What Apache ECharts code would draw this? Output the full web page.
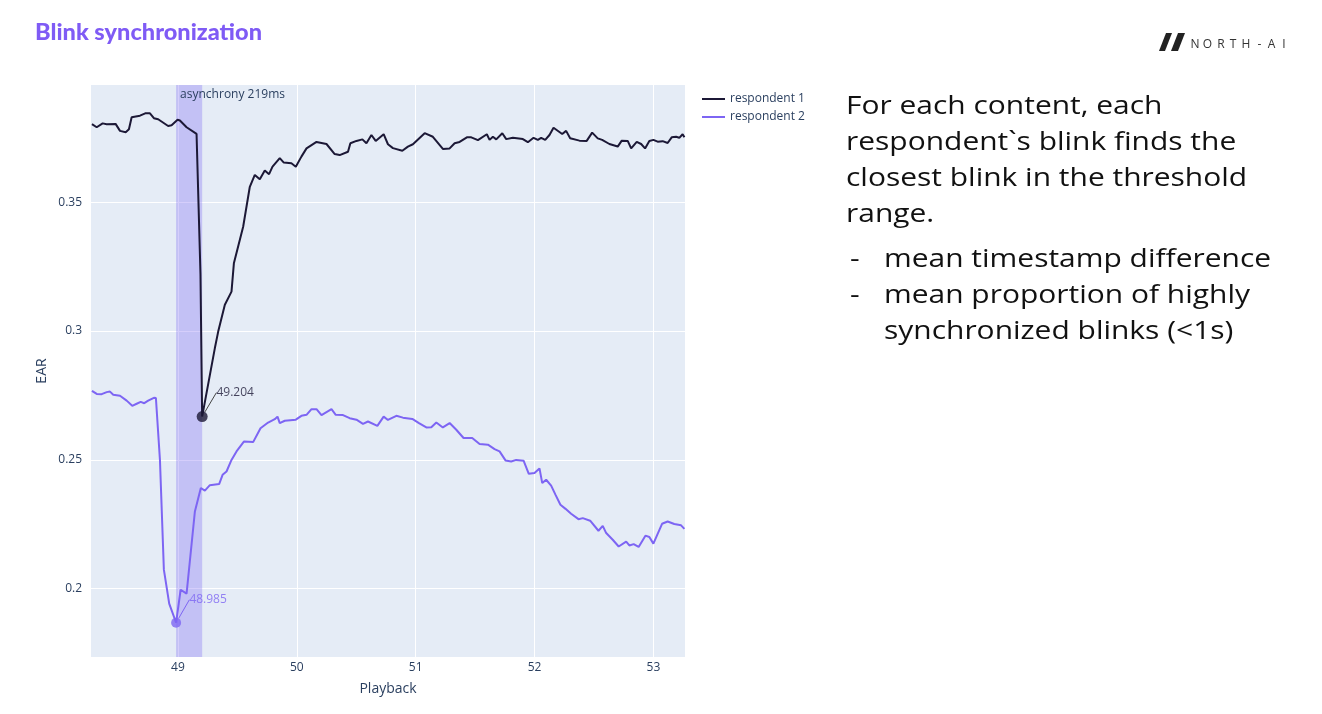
<!DOCTYPE html>
<html>
<head>
<meta charset="utf-8">
<script src="https://cdn.jsdelivr.net/npm/echarts@6/dist/echarts.min.js"></script>
<style>
  html, body { margin: 0; padding: 0; background: #ffffff; }
  #chart { width: 1322px; height: 714px; }
</style>
</head>
<body>
<div id="chart"></div>
<script>
// ---- data ----
const seriesNames = ['respondent 1', 'respondent 2'];

const r1X = [48.277,48.317,48.367,48.401,48.476,48.513,48.561,48.588,48.611,48.681,48.725,48.765,48.798,48.834,48.918,48.947,48.997,49.017,49.073,49.157,49.190,49.204,49.311,49.339,49.395,49.451,49.471,49.549,49.605,49.647,49.689,49.731,49.767,49.796,49.857,49.891,49.955,49.992,50.039,50.082,50.166,50.250,50.319,50.361,50.431,50.451,50.502,50.552,50.586,50.628,50.664,50.731,50.767,50.809,50.888,50.935,50.977,51.076,51.145,51.229,51.286,51.328,51.370,51.431,51.468,51.524,51.599,51.622,51.650,51.678,51.729,51.762,51.818,51.902,51.944,51.992,52.028,52.056,52.090,52.126,52.160,52.233,52.266,52.300,52.378,52.439,52.485,52.532,52.569,52.630,52.700,52.734,52.784,52.813,52.860,52.897,52.930,52.966,53.000,53.036,53.078,53.120,53.154,53.191,53.218,53.246,53.261];
const r1Y = [0.3803,0.3791,0.3806,0.3803,0.3804,0.3777,0.3772,0.3783,0.3830,0.3836,0.3845,0.3845,0.3826,0.3822,0.3796,0.3799,0.3820,0.3817,0.3791,0.3765,0.3220,0.2668,0.2934,0.2998,0.3102,0.3153,0.3263,0.3405,0.3560,0.3606,0.3589,0.3623,0.3609,0.3638,0.3671,0.3654,0.3651,0.3638,0.3677,0.3709,0.3734,0.3726,0.3687,0.3683,0.3696,0.3729,0.3738,0.3744,0.3729,0.3761,0.3738,0.3764,0.3725,0.3710,0.3700,0.3716,0.3725,0.3768,0.3754,0.3707,0.3709,0.3729,0.3734,0.3752,0.3752,0.3741,0.3764,0.3742,0.3754,0.3744,0.3768,0.3745,0.3750,0.3745,0.3733,0.3750,0.3742,0.3750,0.3742,0.3761,0.3789,0.3765,0.3777,0.3748,0.3739,0.3738,0.3770,0.3748,0.3742,0.3726,0.3716,0.3739,0.3738,0.3709,0.3734,0.3726,0.3709,0.3738,0.3742,0.3735,0.3737,0.3730,0.3752,0.3754,0.3750,0.3764,0.3752];

const r2X = [48.277,48.317,48.359,48.401,48.429,48.456,48.513,48.569,48.616,48.653,48.687,48.717,48.750,48.798,48.815,48.849,48.882,48.927,48.985,49.023,49.073,49.143,49.193,49.227,49.269,49.347,49.376,49.409,49.451,49.493,49.555,49.633,49.695,49.759,49.815,49.838,49.857,49.899,49.992,50.039,50.082,50.124,50.166,50.208,50.292,50.328,50.389,50.445,50.502,50.557,50.599,50.678,50.731,50.767,50.838,50.893,50.972,51.028,51.090,51.132,51.174,51.229,51.286,51.342,51.403,51.476,51.538,51.608,51.622,51.664,51.706,51.756,51.804,51.846,51.908,51.952,52.000,52.042,52.065,52.098,52.140,52.176,52.218,52.261,52.308,52.370,52.406,52.468,52.538,52.574,52.603,52.658,52.708,52.771,52.798,52.834,52.876,52.933,52.966,53.000,53.036,53.073,53.120,53.176,53.233,53.261];
const r2Y = [0.2768,0.2756,0.2755,0.2763,0.2765,0.2753,0.2749,0.2730,0.2710,0.2718,0.2725,0.2720,0.2730,0.2741,0.2740,0.2500,0.2074,0.1942,0.1868,0.1996,0.1981,0.2300,0.2391,0.2381,0.2402,0.2406,0.2442,0.2455,0.2500,0.2533,0.2571,0.2569,0.2623,0.2645,0.2658,0.2668,0.2643,0.2652,0.2656,0.2671,0.2675,0.2697,0.2697,0.2674,0.2697,0.2675,0.2674,0.2662,0.2656,0.2640,0.2649,0.2632,0.2668,0.2655,0.2671,0.2664,0.2659,0.2643,0.2626,0.2627,0.2645,0.2626,0.2643,0.2617,0.2585,0.2585,0.2562,0.2559,0.2562,0.2542,0.2533,0.2498,0.2494,0.2500,0.2497,0.2446,0.2449,0.2467,0.2410,0.2423,0.2400,0.2365,0.2326,0.2310,0.2291,0.2270,0.2274,0.2264,0.2225,0.2244,0.2216,0.2190,0.2164,0.2183,0.2168,0.2173,0.2162,0.2206,0.2201,0.2175,0.2213,0.2252,0.2261,0.2251,0.2246,0.2232];

// blink timestamps (minimum EAR) found for each respondent
const blinkTimes = [49.204, 48.985];
const asynchronyLabel = 'asynchrony 219ms';

// axis range
const xRange = [48.269, 53.266];
const yRange = [0.1735, 0.3955];

// text
const titleText = 'Blink synchronization';
const paraLines = ['For each content, each', 'respondent`s blink finds the', 'closest blink in the threshold', 'range.'];
const bulletLines = [['-', 'mean timestamp difference'], ['-', 'mean proportion of highly'], ['', 'synchronized blinks (<1s)']];
const logoText = 'NORTH-AI';

// ---- build ----
const COL1 = '#1c1836';
const COL2 = '#7d65f3';
const AXC = '#2a3f5f';
const FONT = '"Open Sans", "Noto Sans", sans-serif';

const d1 = r1X.map((x, i) => [x, r1Y[i]]);
const d2 = r2X.map((x, i) => [x, r2Y[i]]);
const blink1 = d1[r1X.indexOf(blinkTimes[0])];
const blink2 = d2[r2X.indexOf(blinkTimes[1])];

// horizontal stretch so that a font fills the same width as the original typeface
const measureCtx = document.createElement('canvas').getContext('2d');
function stretchFor(text, font, targetWidth) {
  measureCtx.font = font;
  return targetWidth / measureCtx.measureText(text).width;
}

const TITLE_FONT = '900 22px Lato, "Open Sans", sans-serif';
const BODY_FONT = '25px "Open Sans", sans-serif';
const titleScale = stretchFor(titleText, TITLE_FONT, 227);
const bodyScale = stretchFor(paraLines[0], BODY_FONT, 319);
const bulletScale = stretchFor(bulletLines[0][1], BODY_FONT, 384);
const textScale = (bodyScale + bulletScale) / 2;

const graphics = [];
graphics.push({
  type: 'text', x: 35, y: 33, scaleX: titleScale,
  style: { text: titleText, fill: '#7f5bf5', font: TITLE_FONT, verticalAlign: 'middle' }
});
paraLines.forEach((t, i) => {
  graphics.push({ type: 'text', x: 846, y: 107 + i * 36, scaleX: textScale,
    style: { text: t, fill: '#111111', font: BODY_FONT, verticalAlign: 'middle', align: 'left' } });
});
bulletLines.forEach((b, i) => {
  const y = 260 + i * 36;
  if (b[0]) graphics.push({ type: 'text', x: 850, y: y, scaleX: textScale,
    style: { text: b[0], fill: '#111111', font: BODY_FONT, verticalAlign: 'middle' } });
  graphics.push({ type: 'text', x: 884, y: y, scaleX: textScale,
    style: { text: b[1], fill: '#111111', font: BODY_FONT, verticalAlign: 'middle' } });
});
// logo mark
graphics.push({ type: 'polygon', shape: { points: [[1159, 51], [1166, 33], [1172, 33], [1165, 51]] }, style: { fill: '#222222' } });
graphics.push({ type: 'polygon', shape: { points: [[1171, 51], [1178, 33], [1185, 33], [1178, 51]] }, style: { fill: '#222222' } });
const logoCenters = [1195, 1207.5, 1221, 1233, 1246, 1259.5, 1271.5, 1284];
logoText.split('').forEach((ch, i) => {
  graphics.push({ type: 'text', x: logoCenters[i], y: 45,
    style: { text: ch, fill: '#333333', font: '500 12px "Open Sans", sans-serif', align: 'center', verticalAlign: 'middle' } });
});

const chart = echarts.init(document.getElementById('chart'), null, { renderer: 'canvas' });

const option = {
  backgroundColor: '#ffffff',
  animation: false,
  graphic: graphics,
  legend: {
    data: seriesNames.map(n => ({ name: n, icon: 'rect' })),
    orient: 'vertical',
    left: 702, top: 93,
    itemWidth: 23, itemHeight: 2, itemGap: 6,
    textStyle: { color: AXC, fontSize: 12, fontFamily: FONT },
    padding: 0
  },
  grid: { left: 91, right: 637, top: 85, bottom: 57, backgroundColor: '#E5ECF6', show: true, borderWidth: 0 },
  xAxis: {
    type: 'value', min: xRange[0], max: xRange[1], splitNumber: 5,
    name: 'Playback', nameLocation: 'middle', nameGap: 25,
    nameTextStyle: { color: AXC, fontSize: 14, fontFamily: FONT },
    axisLine: { show: false }, axisTick: { show: false },
    axisLabel: { color: AXC, fontSize: 12, fontFamily: FONT, margin: 5, showMinLabel: false, showMaxLabel: false,
      formatter: v => String(+v.toFixed(3)) },
    splitLine: { show: true, showMinLine: false, showMaxLine: false, lineStyle: { color: '#ffffff', width: 1 } }
  },
  yAxis: {
    type: 'value', min: yRange[0], max: yRange[1], splitNumber: 5,
    name: 'EAR', nameLocation: 'middle', nameGap: 42, nameRotate: 90,
    nameTextStyle: { color: AXC, fontSize: 14, fontFamily: FONT },
    axisLine: { show: false }, axisTick: { show: false },
    axisLabel: { color: AXC, fontSize: 12, fontFamily: FONT, margin: 9, showMinLabel: false, showMaxLabel: false,
      formatter: v => String(+v.toFixed(3)) },
    splitLine: { show: true, showMinLine: false, showMaxLine: false, lineStyle: { color: '#ffffff', width: 1 } }
  },
  series: [
    {
      name: seriesNames[0], type: 'line', data: d1, symbol: 'none',
      lineStyle: { color: COL1, width: 2 }, itemStyle: { color: COL1 }, z: 3
    },
    {
      name: seriesNames[1], type: 'line', data: d2, symbol: 'none',
      lineStyle: { color: COL2, width: 2 }, itemStyle: { color: COL2 }, z: 3,
      markArea: {
        silent: true,
        itemStyle: { color: 'rgba(124,102,242,0.32)' },
        label: { show: true, position: 'insideTopLeft', distance: 4, color: AXC, fontSize: 12, fontFamily: FONT },
        data: [[{ name: asynchronyLabel, xAxis: blinkTimes[1] }, { xAxis: blinkTimes[0] }]]
      }
    },
    {
      type: 'scatter', data: [blink1], symbolSize: 11, itemStyle: { color: COL1 }, z: 5,
      label: { show: true, position: 'inside', formatter: () => blinkTimes[0].toFixed(3), color: '#1c1836', fontSize: 12, fontFamily: FONT },
      labelLayout: { dx: 33, dy: -24 },
      labelLine: { show: true, length2: 0, lineStyle: { color: '#444444', width: 1 } }
    },
    {
      type: 'scatter', data: [blink2], symbolSize: 10, itemStyle: { color: COL2 }, z: 5,
      label: { show: true, position: 'inside', formatter: () => blinkTimes[1].toFixed(3), color: COL2, fontSize: 12, fontFamily: FONT },
      labelLayout: { dx: 32, dy: -23 },
      labelLine: { show: true, length2: 0, lineStyle: { color: COL2, width: 1 } }
    }
  ]
};
chart.setOption(option);
</script>
</body>
</html>
